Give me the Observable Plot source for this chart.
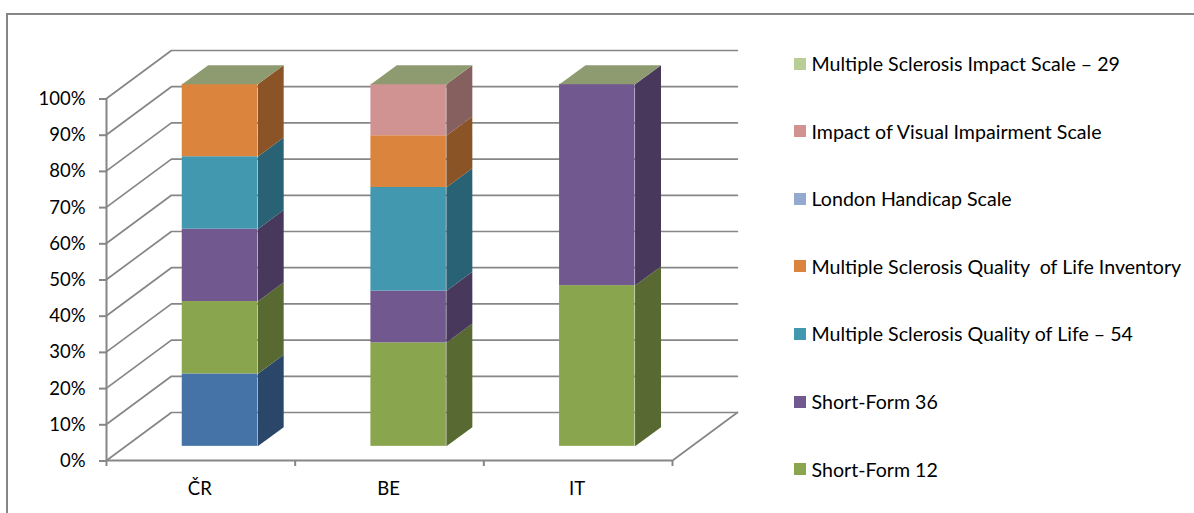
<!DOCTYPE html>
<html>
<head>
<meta charset="utf-8">
<script src="https://cdn.jsdelivr.net/npm/d3@7"></script>
<script src="https://cdn.jsdelivr.net/npm/@observablehq/plot@0.6"></script>
<style>
html,body{margin:0;padding:0;background:#fff;overflow:hidden}
#wrap{position:relative;width:1194px;height:513px;font-family:Lato,sans-serif}
#border{position:absolute;left:6px;top:13px;width:1188px;height:500px;border-left:2px solid #868686;border-top:2px solid #868686;box-sizing:border-box}
#chart{position:absolute;left:0;top:0}
#legend{position:absolute;left:0;top:0}
.item{position:absolute;left:794px;height:24px;display:flex;align-items:center;white-space:pre;font-size:19.6px;color:#000}
.sw{width:12px;height:12px;margin-right:5.5px;flex:none}
</style>
</head>
<body>
<div id="wrap"><div id="border"></div><div id="chart"></div><div id="legend"></div></div>
<script>
const categories = ["ČR", "BE", "IT"];
const hiddenSeries = "Unlabelled series";
const seriesNames = [hiddenSeries, "Short-Form 12", "Short-Form 36", "Multiple Sclerosis Quality of Life – 54",
  "Multiple Sclerosis Quality  of Life Inventory", "London Handicap Scale",
  "Impact of Visual Impairment Scale", "Multiple Sclerosis Impact Scale – 29"];
const valuesCR = [20, 20, 20, 20, 20, 0, 0, 0];
const valuesBE = [0, 28.6, 14.3, 28.6, 14.3, 0, 14.2, 0];
const valuesIT = [0, 44.4, 55.6, 0, 0, 0, 0, 0];
const frontColors = ["#4572a7", "#89a54e", "#71588f", "#4198af", "#db843d", "#93a9cf", "#d19392", "#b9cd96"];
const sideColors = ["#2a4669", "#586a31", "#48385c", "#286274", "#8b5426", "#5f6d86", "#86605f", "#778460"];
const topColor = "#8e9a6f";
const gridColor = "#868686";
const yTicks = d3.range(0, 101, 10);

// Oblique projection of the 3-D chart box, expressed in scale units.
const depthX = 0.344, depthY = 13.26;
const barStart = 0.3, barEnd = 0.7, depthFront = 0.295, depthBack = 0.695;
const px = (c, z) => c + z * depthX;
const py = (v, z) => v + z * depthY;

const rows = [valuesCR, valuesBE, valuesIT];
const segments = [];
rows.forEach((vals, c) => {
  let sum = 0;
  vals.forEach((v, s) => {
    if (v > 0) segments.push({c, s, y1: sum, y2: sum + v});
    sum += v;
  });
});
const poly = (id, fill, pts) => pts.map(([c, v, z]) => ({id, fill, x: px(c, z), y: py(v, z)}));

const sides = segments.flatMap((d, i) => {
  const e = d.c + barEnd;
  return poly("s" + i, sideColors[d.s], [[e, d.y1, depthFront], [e, d.y2, depthFront], [e, d.y2, depthBack], [e, d.y1, depthBack]]);
});
const tops = categories.flatMap((_, c) => {
  const a = c + barStart, b = c + barEnd;
  return poly("t" + c, topColor, [[a, 100, depthFront], [b, 100, depthFront], [b, 100, depthBack], [a, 100, depthBack]]);
});
const fronts = segments.map(d => ({
  x1: px(d.c + barStart, depthFront), x2: px(d.c + barEnd, depthFront),
  y1: py(d.y1, depthFront), y2: py(d.y2, depthFront), fill: frontColors[d.s]
}));
const wall = yTicks.flatMap(v => [
  {id: "w" + v, x: px(0, 0), y: py(v, 0)},
  {id: "w" + v, x: px(0, 1), y: py(v, 1)},
  {id: "w" + v, x: px(3, 1), y: py(v, 1)}
]);
const floorEdge = [{x: px(3, 0), y: py(0, 0)}, {x: px(3, 1), y: py(0, 1)}];

const plot = Plot.plot({
  width: 1194, height: 513,
  marginLeft: 106, marginRight: 522, marginTop: 98, marginBottom: 53,
  style: {fontFamily: "Lato, sans-serif", fontSize: "18.5px", background: "transparent", overflow: "visible"},
  x: {domain: [0, 3]},
  y: {domain: [0, 100]},
  marks: [
    Plot.line(wall, {x: "x", y: "y", z: "id", stroke: gridColor, strokeWidth: 1.7}),
    Plot.line(floorEdge, {x: "x", y: "y", stroke: gridColor, strokeWidth: 1.7}),
    Plot.line(sides, {x: "x", y: "y", z: "id", fill: {value: "fill", scale: null}, stroke: null, curve: "linear-closed"}),
    Plot.rect(fronts, {x1: "x1", x2: "x2", y1: "y1", y2: "y2", fill: {value: "fill", scale: null}}),
    Plot.line(tops, {x: "x", y: "y", z: "id", fill: {value: "fill", scale: null}, stroke: null, curve: "linear-closed"}),
    Plot.ruleX([0], {stroke: gridColor, strokeWidth: 2}),
    Plot.ruleY([0], {x1: 0, x2: 3, stroke: gridColor, strokeWidth: 2}),
    Plot.axisY({ticks: yTicks, tickFormat: d => d + "%", tickSize: 7, tickPadding: 14, dy: 0.5, stroke: gridColor, strokeWidth: 2, fill: "#000", label: null}),
    Plot.axisX({ticks: [0, 1, 2, 3], tickFormat: () => "", tickSize: 6, stroke: gridColor, strokeWidth: 2, label: null}),
    Plot.axisX({ticks: [0.5, 1.5, 2.5], tickFormat: d => categories[Math.floor(d)], tickSize: 0, tickPadding: 21, dx: -1, fill: "#000", label: null})
  ]
});
document.getElementById("chart").appendChild(plot);

// Legend: entries run top to bottom in reverse series order; the unlabelled one falls off the chart.
const legendTop = 51.5, legendStep = 67.6;
const legend = document.getElementById("legend");
seriesNames.slice(1).reverse().forEach((name, i) => {
  const el = document.createElement("div");
  el.className = "item";
  el.style.top = (legendTop + i * legendStep) + "px";
  const sw = document.createElement("span");
  sw.className = "sw";
  sw.style.background = frontColors[seriesNames.indexOf(name)];
  el.appendChild(sw);
  el.appendChild(document.createTextNode(name));
  legend.appendChild(el);
});
</script>
</body>
</html>
